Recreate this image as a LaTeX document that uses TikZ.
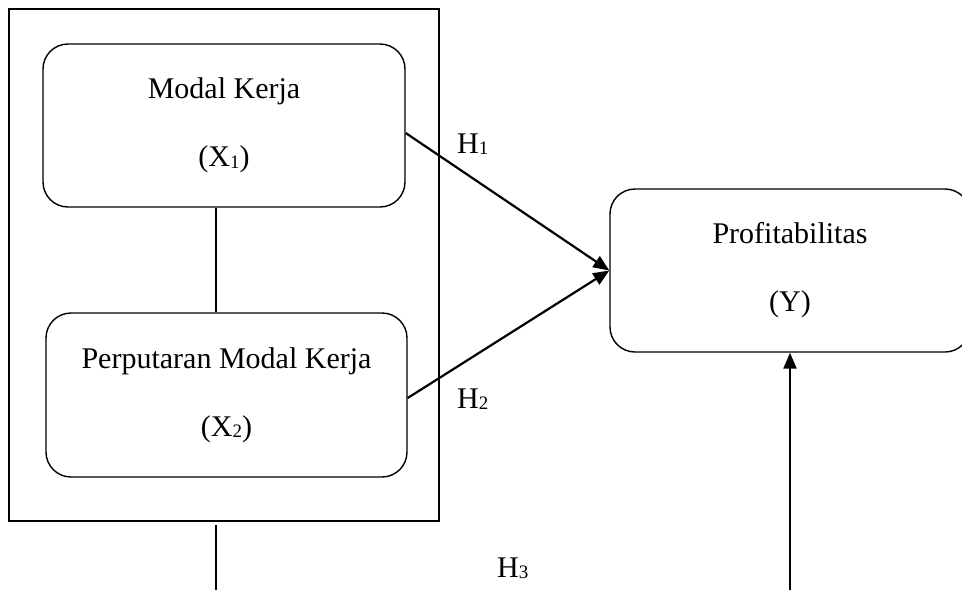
\documentclass[tikz,border=0pt]{standalone}
\usepackage{fontspec}
\setmainfont{Liberation Serif}
\usetikzlibrary{arrows.meta}
\newcommand\sbs[1]{\raisebox{-1.5pt}{\fontsize{19}{19}\selectfont #1}}
\begin{document}
\begin{tikzpicture}[x=1pt,y=-1pt,
  varbox/.style={draw, line width=1.4pt, rounded corners=25pt, align=center,
    inner sep=0pt, font=\fontsize{30}{68}\selectfont},
  frame/.style={draw, line width=2.2pt, inner sep=0pt},
  link/.style={line width=1.5pt},
  arr/.style={line width=2.2pt, -{Triangle[length=16pt,width=13pt]}},
  hlab/.style={anchor=base west, inner sep=0pt, font=\fontsize{30}{36}\selectfont}]
\useasboundingbox (0,0) rectangle (962,590);
\clip (0,0) rectangle (962,590);
\node[frame, minimum width=430pt, minimum height=512pt] (outer) at (224,265) {};
\node[varbox, minimum width=362pt, minimum height=163pt] (x1) at (224,125.5)
  {Modal Kerja\\(X\sbs{1})};
\node[varbox, minimum width=361pt, minimum height=164pt] (x2) at (226.5,395)
  {Perputaran Modal Kerja\\(X\sbs{2})};
\node[varbox, minimum width=360pt, minimum height=163pt] (y) at (790,270.5)
  {Profitabilitas\\(Y)};
\coordinate (c) at (216,0);
\coordinate (bot) at (216,590);
\coordinate (ybot) at (790,590);
\draw[link] (x1.south -| c) -- (x2.north -| c);
\draw[link] ([yshift=-3pt]outer.south -| c) -- (bot);
\draw[arr] ([yshift=-7.5pt]x1.east) -- (y.west);
\draw[arr] ([yshift=-3pt]x2.east) -- (y.west);
\draw[arr] (ybot) -- (y.south);
\node[hlab] (h1) at (457,153) {H\sbs{1}};
\node[hlab] (h2) at (457,408) {H\sbs{2}};
\node[hlab] (h3) at (497,577) {H\sbs{3}};
\end{tikzpicture}
\end{document}
